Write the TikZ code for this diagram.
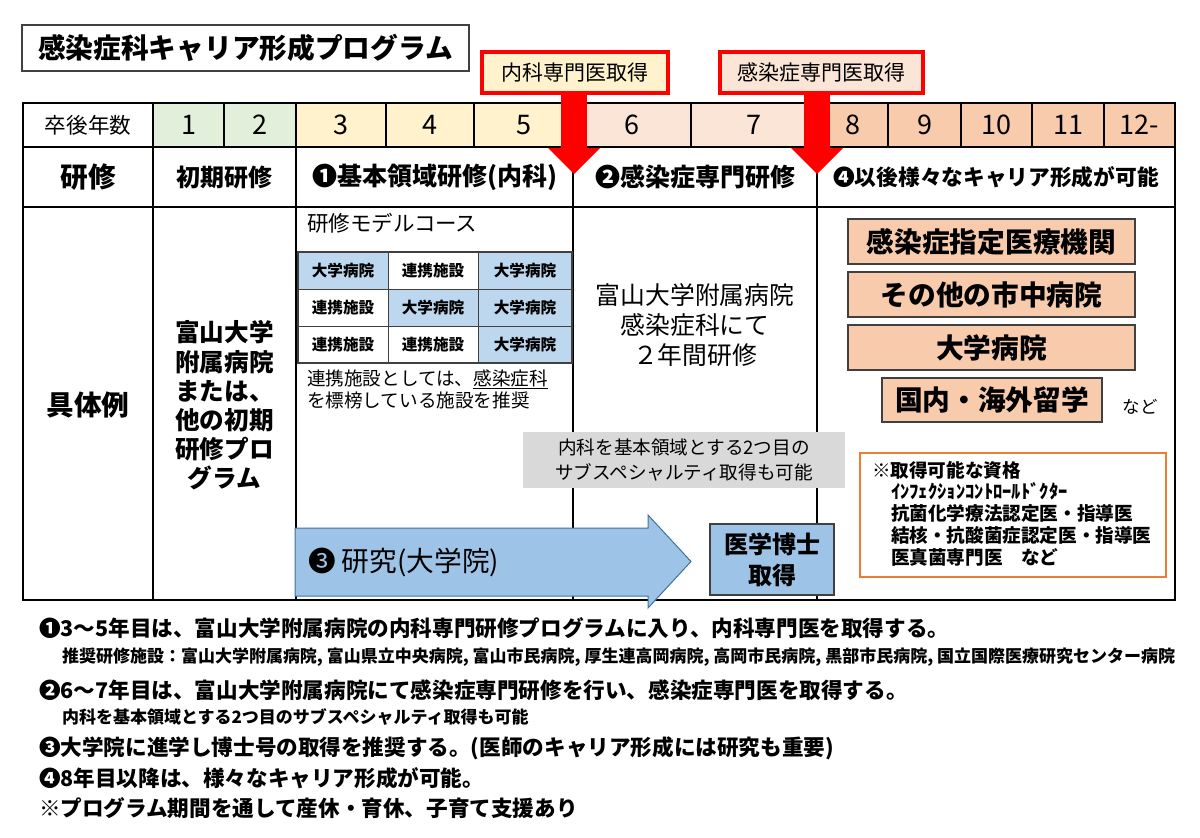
\documentclass[tikz,border=0pt]{standalone}
\usepackage{fontspec}
\setmainfont{Noto Sans CJK JP}
\usetikzlibrary{arrows.meta}
\definecolor{cgreen}{HTML}{E2EFDA}
\definecolor{cyellow}{HTML}{FFF2CC}
\definecolor{cpink}{HTML}{FBE5D6}
\definecolor{csalmon}{HTML}{F8CBAD}
\definecolor{cblue}{HTML}{BDD7EE}
\definecolor{carrow}{HTML}{9DC3E6}
\definecolor{carrowb}{HTML}{41719C}
\definecolor{cgray}{HTML}{D9D9D9}
\definecolor{corange}{HTML}{ED7D31}
\definecolor{cred}{HTML}{FF0000}
\definecolor{cdark}{HTML}{404040}
\newcommand\fz[2]{\fontsize{#1}{#2}\selectfont}
\begin{document}
\begin{tikzpicture}[x=1pt,y=-1pt,
  every node/.style={inner sep=0pt,outer sep=0pt},
  tcell/.style={draw=black,line width=1.3pt},
  rowa/.style={tcell,minimum height=44pt},
  rowb/.style={tcell,minimum height=60pt},
  rowc/.style={tcell,minimum height=393pt},
  num/.style={font=\fz{27}{30}},
  callout/.style={draw=cred,line width=4.5pt,font=\fz{21}{24},minimum height=41pt},
  redarrow/.style={draw=cred,line width=26pt,-{Triangle[width=52pt,length=26pt,line width=0pt]}},
  mcell/.style={draw=cdark,line width=0.8pt,minimum height=37pt,font=\bfseries\fz{15.6}{18}},
  career/.style={draw=cdark,line width=1.2pt,fill=csalmon,minimum height=45pt,font=\bfseries\fz{27.7}{30}},
  bottom/.style={anchor=west,font=\bfseries\fz{21.6}{24}},
  bottoms/.style={anchor=west,font=\bfseries\fz{17}{20}},
  qual/.style={anchor=west,font=\bfseries\fz{18.6}{21}}
]
\useasboundingbox[fill=white] (0,0) rectangle (1200,838);

% title
\node[draw=cdark,line width=1.2pt,minimum width=447pt,minimum height=46pt,font=\bfseries\fz{27.7}{30}] (title) at (245.5,48) {感染症科キャリア形成プログラム};

% row 1
\node[rowa,minimum width=130pt,font=\fz{21.6}{24}] (hyear) at (88,125) {卒後年数};
\node[rowa,num,fill=cgreen,minimum width=71pt] (y1) at (188.5,125) {1};
\node[rowa,num,fill=cgreen,minimum width=72pt] (y2) at (260,125) {2};
\node[rowa,num,fill=cyellow,minimum width=90pt] (y3) at (341,125) {3};
\node[rowa,num,fill=cyellow,minimum width=88pt] (y4) at (430,125) {4};
\node[rowa,num,fill=cyellow,minimum width=99pt] (y5) at (523.5,125) {5};
\node[rowa,num,fill=cpink,minimum width=118pt] (y6) at (632,125) {6};
\node[rowa,num,fill=cpink,minimum width=126pt] (y7) at (754,125) {7};
\node[rowa,num,fill=csalmon,minimum width=71pt] (y8) at (852.5,125) {8};
\node[rowa,num,fill=csalmon,minimum width=73pt] (y9) at (924.5,125) {9};
\node[rowa,num,fill=csalmon,minimum width=71pt] (y10) at (996.5,125) {10};
\node[rowa,num,fill=csalmon,minimum width=72pt] (y11) at (1068,125) {11};
\node[rowa,num,fill=csalmon,minimum width=71pt] (y12) at (1139.5,125) {12-};

% row 2
\node[rowb,minimum width=130pt,font=\bfseries\fz{27.7}{30}] (htr) at (88,177) {研修};
\node[rowb,minimum width=143pt,font=\bfseries\fz{24}{27}] (tr1) at (224.5,177) {初期研修};
\node[rowb,minimum width=277pt,font=\bfseries\fz{25}{28}] (tr2) at (434.5,177) {❶基本領域研修(内科)};
\node[rowb,minimum width=244pt,font=\bfseries\fz{25}{28}] (tr3) at (695,177) {❷感染症専門研修};
\node[rowb,minimum width=358pt,font=\bfseries\fz{21.7}{24}] (tr4) at (996,177) {❹以後様々なキャリア形成が可能};

% row 3
\node[rowc,minimum width=130pt] (hex) at (88,403.5) {};
\node[rowc,minimum width=143pt] (ex1) at (224.5,403.5) {};
\node[rowc,minimum width=277pt] (ex2) at (434.5,403.5) {};
\node[rowc,minimum width=244pt] (ex3) at (695,403.5) {};
\node[rowc,minimum width=358pt] (ex4) at (996,403.5) {};

\node[font=\bfseries\fz{27.7}{30}] (hexl) at (88,405) {具体例};
\node[font=\bfseries\fz{24.6}{29.2},align=center] (ex1t) at (224.5,405.5)
  {富山大学\\附属病院\\または、\\他の初期\\研修プロ\\グラム};
\node[font=\fz{24.8}{30},align=center] (ex3t) at (695,325)
  {富山大学附属病院\\感染症科にて\\２年間研修};

% model course
\node[anchor=west,font=\fz{21.5}{24}] (mc) at (307,223) {研修モデルコース};
\node[mcell,fill=cblue,minimum width=90pt] (m11) at (343,270.5) {大学病院};
\node[mcell,minimum width=90pt] (m12) at (433,270.5) {連携施設};
\node[mcell,fill=cblue,minimum width=94pt] (m13) at (525,270.5) {大学病院};
\node[mcell,minimum width=90pt] (m21) at (343,307.5) {連携施設};
\node[mcell,fill=cblue,minimum width=90pt] (m22) at (433,307.5) {大学病院};
\node[mcell,fill=cblue,minimum width=94pt] (m23) at (525,307.5) {大学病院};
\node[mcell,minimum width=90pt] (m31) at (343,344.5) {連携施設};
\node[mcell,minimum width=90pt] (m32) at (433,344.5) {連携施設};
\node[mcell,fill=cblue,minimum width=94pt] (m33) at (525,344.5) {大学病院};
\draw[draw=cdark,line width=1.5pt] (m11.north west) rectangle (m33.south east);
\node[anchor=west,font=\fz{18.6}{20}] (note1) at (307,379) {連携施設としては、\underline{感染症科}};
\node[anchor=west,font=\fz{18.6}{20}] (note2) at (307,400) {を標榜している施設を推奨};

% career boxes
\node[career,minimum width=287pt] (cb1) at (991.5,241.5) {感染症指定医療機関};
\node[career,minimum width=287pt] (cb2) at (991.5,294.5) {その他の市中病院};
\node[career,minimum width=287pt] (cb3) at (991.5,347.5) {大学病院};
\node[career,minimum width=220pt,minimum height=44pt] (cb4) at (992,400) {国内・海外留学};
\node[font=\fz{17.5}{20}] (nado) at (1140,407) {など};

% gray box
\node[fill=cgray,minimum width=322pt,minimum height=56pt,align=center,font=\fz{18.6}{25}] (sub) at (684,460)
  {内科を基本領域とする2つ目の\\サブスペシャルティ取得も可能};

% qualification box
\node[draw=corange,line width=1.6pt,minimum width=306pt,minimum height=124pt] (qual) at (1013,515) {};
\node[qual] (q0) at (872,470) {※取得可能な資格};
\node[qual,font=\bfseries\fz{18.6}{21}] (q1) at (891,491) {ｲﾝﾌｪｸｼｮﾝｺﾝﾄﾛｰﾙﾄﾞｸﾀｰ};
\node[qual] (q2) at (891,513) {抗菌化学療法認定医・指導医};
\node[qual] (q3) at (891,535) {結核・抗酸菌症認定医・指導医};
\node[qual] (q4) at (891,557) {医真菌専門医　など};

% research arrow
\draw[draw=carrowb,fill=carrow,line width=1pt] (295,528) -- (648,528) -- (648,515) -- (691,561.5) -- (648,608) -- (648,596) -- (295,596) -- cycle;
\node[anchor=west,font=\fz{27.7}{30}] (research) at (308,562) {❸ 研究(大学院)};
\node[draw=cdark,line width=1.2pt,fill=carrow,minimum width=124pt,minimum height=71pt,align=center,font=\bfseries\fz{24}{31}] (phd) at (772,559.5) {医学博士\\取得};

% callouts and red arrows
\coordinate (tip1) at (574,174);
\coordinate (tip2) at (817,174);
\node[callout,fill=cyellow,minimum width=186pt] (cal1) at (575,72.5) {内科専門医取得};
\node[callout,fill=cpink,minimum width=203pt] (cal2) at (821.5,72.5) {感染症専門医取得};
\draw[redarrow] (cal1.south -| tip1) -- (tip1);
\draw[redarrow] (cal2.south -| tip2) -- (tip2);
\node[callout,fill=cyellow,minimum width=186pt] at (575,72.5) {内科専門医取得};
\node[callout,fill=cpink,minimum width=203pt] at (821.5,72.5) {感染症専門医取得};

% bottom text
\node[bottom] (b1) at (39,628) {❶3～5年目は、富山大学附属病院の内科専門研修プログラムに入り、内科専門医を取得する。};
\node[bottoms] (b2) at (62,657) {推奨研修施設：富山大学附属病院, 富山県立中央病院, 富山市民病院, 厚生連高岡病院, 高岡市民病院, 黒部市民病院, 国立国際医療研究センター病院};
\node[bottom] (b3) at (39,690) {❷6～7年目は、富山大学附属病院にて感染症専門研修を行い、感染症専門医を取得する。};
\node[bottoms] (b4) at (62,717) {内科を基本領域とする2つ目のサブスペシャルティ取得も可能};
\node[bottom] (b5) at (39,748) {❸大学院に進学し博士号の取得を推奨する。(医師のキャリア形成には研究も重要)};
\node[bottom] (b6) at (39,778) {❹8年目以降は、様々なキャリア形成が可能。};
\node[bottom] (b7) at (39,808) {※プログラム期間を通して産休・育休、子育て支援あり};
\end{tikzpicture}
\end{document}
